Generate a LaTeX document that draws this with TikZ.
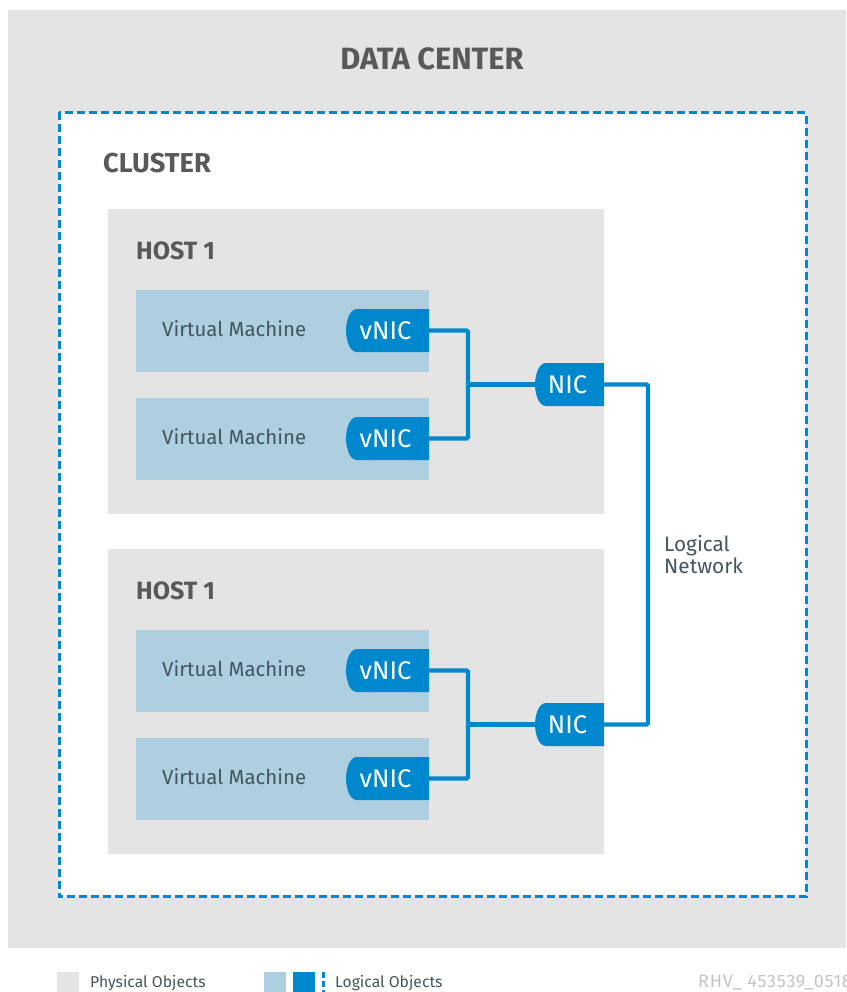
\documentclass[tikz,border=0pt]{standalone}
\usepackage{fontspec}
\setmainfont{Fira Sans}
\definecolor{phys}{HTML}{E4E4E4}
\definecolor{vmblue}{HTML}{AECFE0}
\definecolor{netblue}{HTML}{0088CE}
\definecolor{headgray}{HTML}{58595B}
\definecolor{vmtext}{HTML}{44555F}
\definecolor{idgray}{HTML}{C4C4C4}
\tikzset{
  box/.style={fill=#1,draw=none,minimum width=0pt},
  lbl/.style={anchor=west,inner sep=0pt,text=vmtext,font=\fontsize{20.4}{22}\selectfont},
  head/.style={anchor=west,inner sep=0pt,text=headgray,font=\fontsize{25}{27}\selectfont\bfseries},
  legend/.style={anchor=west,inner sep=0pt,text=vmtext,font=\fontsize{15.7}{17}\selectfont},
  nicbox/.style={rectangle,inner sep=0pt,minimum width=#1,minimum height=43pt,text=white,
    font=\fontsize{25.5}{27}\selectfont,
    path picture={
      \fill[netblue]
        (path picture bounding box.north east) --
        ([xshift=11pt]path picture bounding box.north west)
        .. controls ([xshift=3pt]path picture bounding box.north west) and
                    ([yshift=8pt]path picture bounding box.west) ..
        (path picture bounding box.west)
        .. controls ([yshift=-8pt]path picture bounding box.west) and
                    ([xshift=3pt]path picture bounding box.south west) ..
        ([xshift=11pt]path picture bounding box.south west) --
        (path picture bounding box.south east) -- cycle;
    }},
  link/.style={draw=netblue,line width=4.3pt,rounded corners=1.5pt},
}
\newcommand{\rectbox}[6]{\path[fill=#1] (#3,#4) rectangle (#5,#6) node[pos=.5,inner sep=0pt] (#2) {};}
\begin{document}
\begin{tikzpicture}[x=1pt,y=-1pt]
\useasboundingbox (0,0) rectangle (846,992);
\fill[white] (0,0) rectangle (846,992);
\rectbox{phys}{dc}{8}{10}{846}{948}
\path[fill=white,draw=netblue,line width=3pt,dash pattern=on 8pt off 4pt] (59,112.5) rectangle (806,896.5);
\node[head,anchor=center,font=\fontsize{30.8}{32}\selectfont\bfseries] (dctitle) at (432,59) {DATA CENTER};
\node[head,font=\fontsize{27.3}{29}\selectfont\bfseries] (cluster) at (103,163) {CLUSTER};
% hosts
\rectbox{phys}{h1}{108}{209}{604}{514}
\rectbox{phys}{h2}{108}{549}{604}{854}
\node[head] (h1t) at (136,251) {HOST 1};
\node[head] (h2t) at (136,591) {HOST 1};
% VMs
\rectbox{vmblue}{vm1}{136}{290}{429}{372}
\rectbox{vmblue}{vm2}{136}{398}{429}{480}
\rectbox{vmblue}{vm3}{136}{630}{429}{712}
\rectbox{vmblue}{vm4}{136}{738}{429}{820}
\node[lbl] (vm1t) at (162,328.5) {Virtual Machine};
\node[lbl] (vm2t) at (162,436.5) {Virtual Machine};
\node[lbl] (vm3t) at (162,668.5) {Virtual Machine};
\node[lbl] (vm4t) at (162,776.5) {Virtual Machine};
% junctions and network corners
\coordinate (j1) at (468,384.5);
\coordinate (j2) at (468,724.5);
\coordinate (ln) at (648,384.5);
% NICs
\node[nicbox=83pt] (v1) at (387.5,330.5) {vNIC\kern4pt};
\node[nicbox=83pt] (v2) at (387.5,438.5) {vNIC\kern4pt};
\node[nicbox=83pt] (v3) at (387.5,670.5) {vNIC\kern4pt};
\node[nicbox=83pt] (v4) at (387.5,778.5) {vNIC\kern4pt};
\node[nicbox=69pt] (n1) at (569.5,384.5) {NIC\kern4pt};
\node[nicbox=69pt] (n2) at (569.5,724.5) {NIC\kern4pt};
% links
\draw[link] (v1.east) -| (j1);
\draw[link] (v2.east) -| (j1);
\draw[link] (j1) -- (n1.west);
\draw[link] (v3.east) -| (j2);
\draw[link] (v4.east) -| (j2);
\draw[link] (j2) -- (n2.west);
\draw[link] (n1.east) -- (ln) |- (n2.east);
\node[lbl,align=left,anchor=north west,font=\fontsize{20.8}{22}\selectfont] (lnt) at (664,535.5) {Logical\\Network};
% legend
\fill[phys] (57,971.5) rectangle (79,992);
\node[legend] (l1) at (90,983) {Physical Objects};
\fill[vmblue] (263.5,971.5) rectangle (286,992);
\fill[netblue] (293,971.5) rectangle (315,992);
\draw[netblue,line width=3pt,dash pattern=on 6.5pt off 2.5pt] (323.5,971.5) -- (323.5,992);
\node[legend] (l2) at (335,983) {Logical Objects};
\node[legend,text=idgray,font=\fontsize{18}{20}\selectfont\addfontfeature{LetterSpace=4}] (rid) at (698,983) {RHV\_ 453539\_0518};
\end{tikzpicture}
\end{document}
